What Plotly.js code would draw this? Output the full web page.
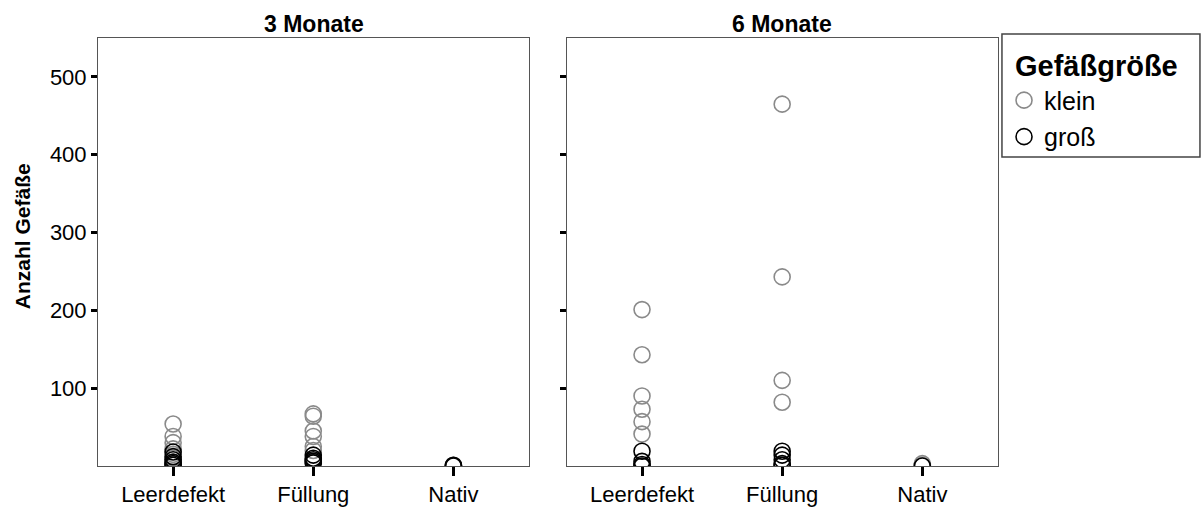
<!DOCTYPE html>
<html><head><meta charset="utf-8">
<script src="https://cdn.plot.ly/plotly-3.0.1.min.js"></script>
<style>html,body{margin:0;padding:0;background:#fff}</style>
</head><body>
<div id="chart" style="width:1204px;height:509px"></div>
<script>
const categories = ["Leerdefekt", "Füllung", "Nativ"];
const panels = ["3 Monate", "6 Monate"];
const sizeLabels = ["klein", "groß"];
const legendTitle = "Gefäßgröße";
const yTitle = "Anzahl Gefäße";

// 3 Monate
const m3_klein_cat = ["Leerdefekt","Leerdefekt","Leerdefekt","Leerdefekt","Leerdefekt","Leerdefekt","Füllung","Füllung","Füllung","Füllung","Füllung","Füllung","Nativ","Nativ"];
const m3_klein_val = [54, 38, 30, 22, 15, 10, 67, 64, 45, 38, 25, 20, 1, 0];
const m3_gross_cat = ["Leerdefekt","Leerdefekt","Leerdefekt","Leerdefekt","Leerdefekt","Leerdefekt","Füllung","Füllung","Füllung","Füllung","Füllung","Nativ","Nativ"];
const m3_gross_val = [18, 12, 8, 5, 3, 1, 14, 10, 8, 6, 4, 0, 1];

// 6 Monate
const m6_klein_cat = ["Leerdefekt","Leerdefekt","Leerdefekt","Leerdefekt","Leerdefekt","Leerdefekt","Füllung","Füllung","Füllung","Füllung","Nativ","Nativ"];
const m6_klein_val = [201, 143, 90, 73, 57, 41, 465, 243, 110, 82, 3, 1];
const m6_gross_cat = ["Leerdefekt","Leerdefekt","Leerdefekt","Leerdefekt","Füllung","Füllung","Füllung","Füllung","Füllung","Nativ"];
const m6_gross_val = [19, 6, 2, 0, 19, 14, 8, 3, 1, 0];

const yTicks = [100, 200, 300, 400, 500];
const colKlein = "#8a8a8a", colGross = "#000000";
const font = "Liberation Sans, Arial, Helvetica, sans-serif";

function mk(x, y, name, color, xa, ya, show) {
  return {type:"scatter", mode:"markers", x:x, y:y, name:name, legendgroup:name, showlegend:show,
    xaxis:xa, yaxis:ya,
    marker:{symbol:"circle-open", size:16, color:color, line:{width:1.6, color:color}}};
}
const data = [
  mk(m3_klein_cat, m3_klein_val, sizeLabels[0], colKlein, "x", "y", true),
  mk(m3_gross_cat, m3_gross_val, sizeLabels[1], colGross, "x", "y", true),
  mk(m6_klein_cat, m6_klein_val, sizeLabels[0], colKlein, "x2", "y2", false),
  mk(m6_gross_cat, m6_gross_val, sizeLabels[1], colGross, "x2", "y2", false)
];

const xbase = {type:"category", categoryarray:categories, categoryorder:"array", range:[-0.536, 2.54],
  showline:true, mirror:true, linecolor:"#555", linewidth:1, showgrid:false, zeroline:false,
  ticks:"outside", ticklen:9, tickwidth:3, tickcolor:"#000",
  tickfont:{size:22, color:"#000", family:font}};
const ybase = {range:[0, 550], tickvals:yTicks, showline:true, mirror:true, linecolor:"#555", linewidth:1,
  showgrid:false, zeroline:false, ticks:"outside", ticklen:6, tickwidth:3, tickcolor:"#000",
  tickfont:{size:22, color:"#000", family:font}};

const layout = {
  width:1204, height:509,
  margin:{l:98, r:206, t:38, b:43},
  paper_bgcolor:"#fff", plot_bgcolor:"#fff",
  font:{family:font, color:"#000"},
  xaxis:Object.assign({}, xbase, {domain:[0, 0.479], anchor:"y"}),
  xaxis2:Object.assign({}, xbase, {domain:[0.521, 1], anchor:"y2"}),
  yaxis:Object.assign({}, ybase, {anchor:"x"}),
  yaxis2:Object.assign({}, ybase, {anchor:"x2", matches:"y", showticklabels:false}),
  annotations:[
    {text:"<b>"+panels[0]+"</b>", xref:"x domain", yref:"paper", x:0.5, y:1, yanchor:"bottom", yshift:-1, showarrow:false, font:{size:23, family:font}},
    {text:"<b>"+panels[1]+"</b>", xref:"x2 domain", yref:"paper", x:0.5, y:1, yanchor:"bottom", yshift:-1, showarrow:false, font:{size:23, family:font}},
    {text:"<b>"+yTitle+"</b>", xref:"paper", yref:"paper", x:-0.0844, y:0.537, xanchor:"center", yanchor:"middle", textangle:-90, showarrow:false, font:{size:21, family:font}},
    {text:"<b>"+legendTitle+"</b>", xref:"paper", yref:"paper", x:1.0167, y:0.935, xanchor:"left", yanchor:"middle", showarrow:false, font:{size:29, family:font}}
  ],
  shapes:[
    {type:"rect", xref:"paper", yref:"paper", x0:1.0044, x1:1.2244, y0:0.722, y1:1.0093, line:{color:"#444", width:1.5}, fillcolor:"rgba(0,0,0,0)"}
  ],
  legend:{x:1.0067, xanchor:"left", y:0.908, yanchor:"top", bgcolor:"rgba(0,0,0,0)", borderwidth:0,
    font:{size:25, family:font}, itemwidth:30, tracegroupgap:1}
};
Plotly.newPlot("chart", data, layout, {displayModeBar:false, staticPlot:true});
</script>
</body></html>
